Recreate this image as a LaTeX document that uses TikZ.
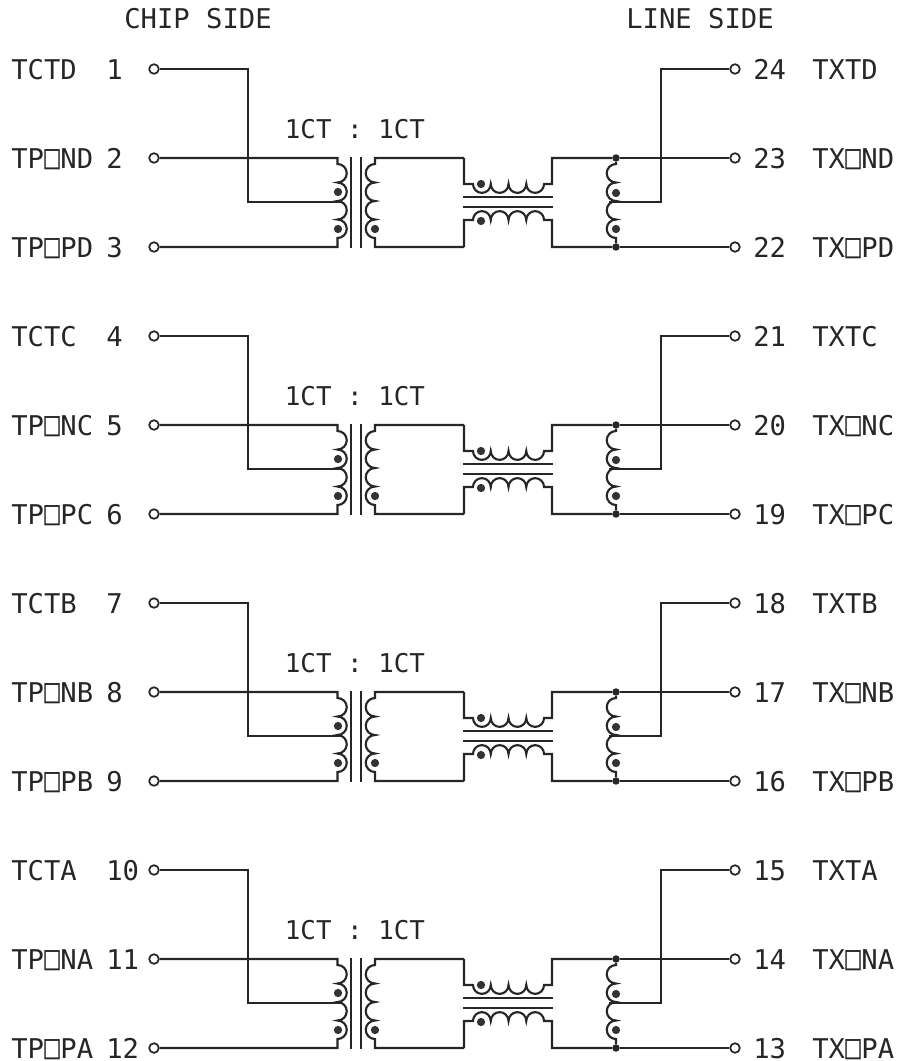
\documentclass[tikz,border=0pt]{standalone}
\usepackage{fontspec}
\setmonofont{DejaVu Sans Mono}
\usetikzlibrary{arrows,positioning,calc}

\newcommand{\sqglyph}{\makebox[0.602em]{\scalebox{0.95}[1.25]{□}}}

\tikzset{
    wire/.style={line width=1.6pt,line join=miter,color=black!85},
    core/.style={line width=1.4pt,color=black!85},
    pin/.style={circle,draw=black!85,line width=1.3pt,fill=white,inner sep=0pt,minimum size=7.2pt},
    joint/.style={circle,fill=black!85,inner sep=0pt,minimum size=5.6pt},
    polarity/.style={circle,fill=black!80,inner sep=0pt,minimum size=6.2pt},
    pinlabel/.style={anchor=base west,inner sep=0pt,text depth=0pt,font=\ttfamily\fontsize{20.4}{22}\selectfont,color=black!85},
    ratio/.style={anchor=base,inner sep=0pt,text depth=0pt,font=\ttfamily\fontsize{19.4}{22}\selectfont,color=black!85},
    coilright/.style={insert path={arc[start angle=90,end angle=-90,radius=6.94pt] arc[start angle=90,end angle=-90,radius=6.94pt] arc[start angle=90,end angle=-90,radius=6.94pt] arc[start angle=90,end angle=-90,radius=6.94pt]}},
    coilleft/.style={insert path={arc[start angle=90,end angle=270,radius=6.94pt] arc[start angle=90,end angle=270,radius=6.94pt] arc[start angle=90,end angle=270,radius=6.94pt] arc[start angle=90,end angle=270,radius=6.94pt]}},
    coildown/.style={insert path={arc[start angle=180,end angle=360,radius=6.66pt] arc[start angle=180,end angle=360,radius=6.66pt] arc[start angle=180,end angle=360,radius=6.66pt] arc[start angle=180,end angle=360,radius=6.66pt]}},
    coilup/.style={insert path={arc[start angle=180,end angle=0,radius=6.66pt] arc[start angle=180,end angle=0,radius=6.66pt] arc[start angle=180,end angle=0,radius=6.66pt] arc[start angle=180,end angle=0,radius=6.66pt]}}
}

\begin{document}
\begin{tikzpicture}[x=0.75pt,y=-0.75pt]
    \useasboundingbox (0,0) rectangle (901,1061);

    % Column headings
    \node[pinlabel] (chipSide) at (124,28) {CHIP SIDE};
    \node[pinlabel] (lineSide) at (626,28) {LINE SIDE};

    % One block per channel
    \foreach \r/\l/\pa/\pb/\pc/\pd/\pe/\pf in {0/D/1/2/3/24/23/22,1/C/4/5/6/21/20/19,2/B/7/8/9/18/17/16,3/A/10/11/12/15/14/13} {
        \begin{scope}[yshift={-\r*267*0.75pt}]
            % Left side labels
            \node[pinlabel] (nameCT\l) at (11,79) {TCT\l};
            \node[pinlabel] (nameN\l) at (11,168) {TP\sqglyph N\l};
            \node[pinlabel] (nameP\l) at (11,257) {TP\sqglyph P\l};
            \node[pinlabel] (numCT\l) at (106,79) {\pa};
            \node[pinlabel] (numN\l) at (106,168) {\pb};
            \node[pinlabel] (numP\l) at (106,257) {\pc};
            \node[ratio] (ratio\l) at (355,138) {1CT : 1CT};

            % Right side labels
            \node[pinlabel] (numTXT\l) at (753,79) {\pd};
            \node[pinlabel] (numTXN\l) at (753,168) {\pe};
            \node[pinlabel] (numTXP\l) at (753,257) {\pf};
            \node[pinlabel] (nameTXT\l) at (812,79) {TXT\l};
            \node[pinlabel] (nameTXN\l) at (812,168) {TX\sqglyph N\l};
            \node[pinlabel] (nameTXP\l) at (812,257) {TX\sqglyph P\l};

            % Left side pins
            \node[pin] (pinCT\l) at (154,69) {};
            \node[pin] (pinN\l) at (154,158) {};
            \node[pin] (pinP\l) at (154,247) {};

            % Right side pins
            \node[pin] (pinTXT\l) at (735,69) {};
            \node[pin] (pinTXN\l) at (735,158) {};
            \node[pin] (pinTXP\l) at (735,247) {};

            % Joints on the line side
            \node[joint] (jointN\l) at (616,158) {};
            \node[joint] (jointP\l) at (616,247) {};

            % Centre taps
            \coordinate (tapA\l) at (248,202);
            \coordinate (tapB\l) at (342,202);
            \coordinate (tapC\l) at (661,202);
            \coordinate (tapD\l) at (609,202);

            % Arcs on the chip side
            \draw[wire] (pinCT\l.east) -- (248,69) -- (tapA\l) -- (tapB\l);
            \draw[wire] (pinN\l.east) -- (337.5,158) -- (337.5,164) [coilright] -- (337.5,247) -- (pinP\l.east);

            % Transformer
            \draw[core] (351,157) -- (351,248);
            \draw[core] (361,157) -- (361,248);
            \draw[wire] (464,158) -- (375,158) -- (375,164) [coilleft] -- (375,247) -- (464,247);

            % Choke
            \draw[wire] (464,158) -- (464,184) -- (473,184) [coildown] -- (552,184) -- (552,158) -- (jointN\l);
            \draw[wire] (464,247) -- (464,220) -- (473,220) [coilup] -- (552,220) -- (552,247) -- (jointP\l);
            \draw[core] (463,197) -- (553,197);
            \draw[core] (463,207) -- (553,207);

            % Arcs on the line side
            \draw[wire] (jointN\l) -- (pinTXN\l.west);
            \draw[wire] (jointP\l) -- (pinTXP\l.west);
            \draw[wire] (jointN\l) -- (616,164) [coilleft] -- (jointP\l);
            \draw[wire] (tapD\l) -- (tapC\l) -- (661,69) -- (pinTXT\l.west);

            % Polarity dots
            \node[polarity] (dotA\l) at (338,192) {};
            \node[polarity] (dotB\l) at (338,229) {};
            \node[polarity] (dotC\l) at (375,229) {};
            \node[polarity] (dotD\l) at (481,184) {};
            \node[polarity] (dotE\l) at (481,221) {};
            \node[polarity] (dotF\l) at (616,193) {};
            \node[polarity] (dotG\l) at (616,229) {};
        \end{scope}
    }
\end{tikzpicture}
\end{document}
